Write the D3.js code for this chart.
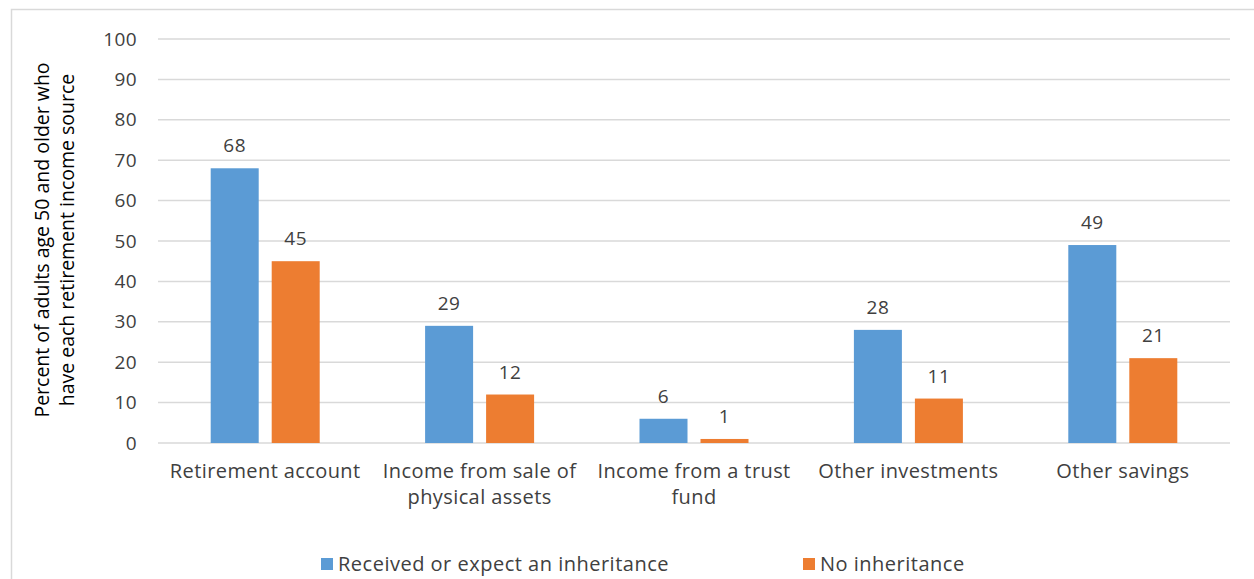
<!DOCTYPE html>
<html>
<head>
<meta charset="utf-8">
<script src="https://cdn.jsdelivr.net/npm/d3@7"></script>
<style>
body { margin: 0; background: #fff; }
text { font-family: "Open Sans", sans-serif; }
</style>
</head>
<body>
<svg width="1254" height="579"></svg>
<script>
// data
var categories = [["Retirement account"], ["Income from sale of", "physical assets"], ["Income from a trust", "fund"], ["Other investments"], ["Other savings"]];
var inherit = [68, 29, 6, 28, 49];
var noInherit = [45, 12, 1, 11, 21];
var seriesNames = ["Received or expect an inheritance", "No inheritance"];
var yTicks = [0, 10, 20, 30, 40, 50, 60, 70, 80, 90, 100];

var colors = ["#5b9bd5", "#ed7d31"];

var svg = d3.select("svg");

// chart frame
svg.append("rect").attr("x", 11.5).attr("y", 9.5).attr("width", 1260).attr("height", 600)
  .attr("fill", "none").attr("stroke", "#d9d9d9").attr("stroke-width", 1.5);

var plotL = 158, plotR = 1230, plotT = 39, plotB = 443;

var x = d3.scaleBand().domain(d3.range(categories.length)).range([plotL, plotR]);
var y = d3.scaleLinear().domain([0, 100]).range([plotB, plotT]);

// gridlines
svg.append("g").selectAll("line").data(yTicks).enter().append("line")
  .attr("x1", plotL).attr("x2", plotR)
  .attr("y1", function(d) { return y(d); }).attr("y2", function(d) { return y(d); })
  .attr("stroke", "#d9d9d9").attr("stroke-width", 1.5);

// y tick labels
svg.append("g").selectAll("text").data(yTicks).enter().append("text")
  .attr("x", 137).attr("y", function(d) { return y(d); })
  .attr("dy", "0.35em").attr("text-anchor", "end")
  .style("font-size", "19px").style("fill", "#404040").style("letter-spacing", "0.4px")
  .text(function(d) { return d; });

var barW = 48, gap = 13;
var series = [inherit, noInherit];

series.forEach(function(vals, s) {
  var g = svg.append("g");
  var bx = function(i) { return x(i) + x.bandwidth() / 2 + (s === 0 ? -(gap / 2 + barW) : gap / 2); };
  g.selectAll("rect").data(vals).enter().append("rect")
    .attr("x", function(d, i) { return bx(i); })
    .attr("y", function(d) { return y(d); })
    .attr("width", barW)
    .attr("height", function(d) { return plotB - y(d); })
    .attr("fill", colors[s]);
  g.selectAll("text").data(vals).enter().append("text")
    .attr("x", function(d, i) { return bx(i) + barW / 2; })
    .attr("y", function(d) { return y(d) - 16; })
    .attr("text-anchor", "middle")
    .style("font-size", "19px").style("fill", "#404040").style("letter-spacing", "0.5px")
    .text(function(d) { return d; });
});

// category labels
var cat = svg.append("g").selectAll("text").data(categories).enter().append("text")
  .attr("x", function(d, i) { return x(i) + x.bandwidth() / 2; })
  .attr("y", 478)
  .attr("text-anchor", "middle")
  .style("font-size", "20px").style("fill", "#404040").style("letter-spacing", "0.4px");
cat.each(function(d) {
  var t = d3.select(this);
  d.forEach(function(line, k) {
    t.append("tspan").attr("x", t.attr("x")).attr("dy", k === 0 ? 0 : 26).text(line);
  });
});

// y axis title
var yt = svg.append("text")
  .attr("transform", "translate(49,240) rotate(-90)")
  .attr("text-anchor", "middle")
  .style("font-size", "19.5px").style("fill", "#000");
yt.append("tspan").attr("x", 0).attr("dy", 0).text("Percent of adults age 50 and older who");
yt.append("tspan").attr("x", 0).attr("dy", 25).text("have each retirement income source");

// legend
var legX = [321, 803];
var leg = svg.append("g").selectAll("g").data(seriesNames).enter().append("g")
  .attr("transform", function(d, i) { return "translate(" + legX[i] + ",558)"; });
leg.append("rect").attr("width", 12).attr("height", 12).attr("fill", function(d, i) { return colors[i]; });
leg.append("text").attr("x", 17).attr("y", 6).attr("dy", "0.35em")
  .style("font-size", "20px").style("fill", "#404040").style("letter-spacing", "0.5px")
  .text(function(d) { return d; });
</script>
</body>
</html>
